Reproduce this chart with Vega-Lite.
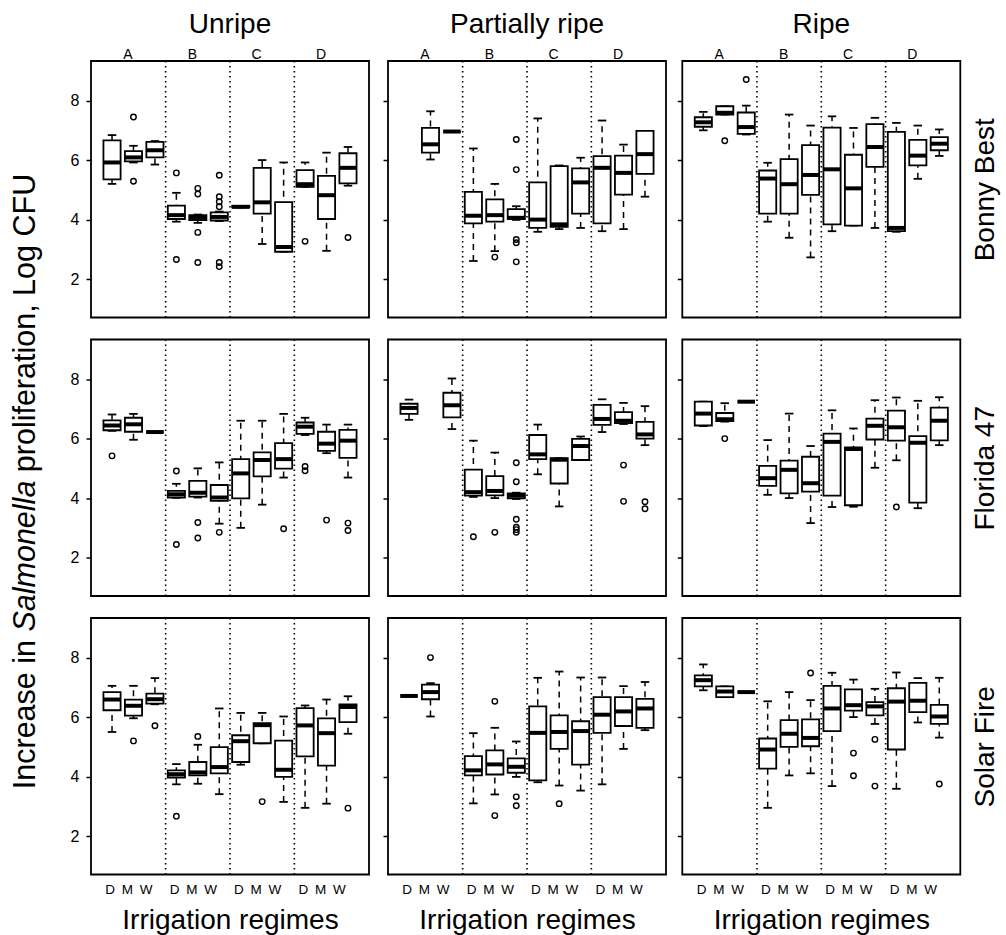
{
"$schema": "https://vega.github.io/schema/vega-lite/v6.json",
"padding": {"left": 0, "top": 10, "right": 0, "bottom": 0},
"background": "white",
"config": {
  "font": "Liberation Sans",
  "view": {"stroke": "black", "strokeWidth": 1.8},
  "axis": {"grid": false, "domain": false, "labelFont": "Liberation Sans", "titleFont": "Liberation Sans", "labelColor": "black", "titleColor": "black", "tickColor": "black", "titleFontWeight": "normal"},
  "title": {"font": "Liberation Sans", "fontSize": 28, "fontWeight": "normal", "color": "black", "offset": 8, "frame": "group", "anchor": "middle"},
  "text": {"font": "Liberation Sans", "color": "black"}
},
"datasets": {
"boxes": [
{"cult":"Bonny Best","ripe":"Unripe","grp":"A","reg":"D","lw":5.21,"q1":5.36,"med":5.93,"q3":6.67,"uw":6.85},
{"cult":"Bonny Best","ripe":"Unripe","grp":"A","reg":"M","lw":5.93,"q1":5.97,"med":6.10,"q3":6.31,"uw":6.49},
{"cult":"Bonny Best","ripe":"Unripe","grp":"A","reg":"W","lw":5.86,"q1":6.10,"med":6.34,"q3":6.62,"uw":6.65},
{"cult":"Bonny Best","ripe":"Unripe","grp":"B","reg":"D","lw":3.94,"q1":4.03,"med":4.16,"q3":4.48,"uw":4.91},
{"cult":"Bonny Best","ripe":"Unripe","grp":"B","reg":"M","lw":3.90,"q1":3.99,"med":4.07,"q3":4.16,"uw":4.18},
{"cult":"Bonny Best","ripe":"Unripe","grp":"B","reg":"W","lw":3.96,"q1":3.98,"med":4.10,"q3":4.25,"uw":4.28},
{"cult":"Bonny Best","ripe":"Unripe","grp":"C","reg":"D","lw":4.42,"q1":4.42,"med":4.44,"q3":4.47,"uw":4.47},
{"cult":"Bonny Best","ripe":"Unripe","grp":"C","reg":"M","lw":3.19,"q1":4.21,"med":4.59,"q3":5.75,"uw":6.01},
{"cult":"Bonny Best","ripe":"Unripe","grp":"C","reg":"W","lw":2.93,"q1":2.93,"med":3.09,"q3":4.60,"uw":5.93},
{"cult":"Bonny Best","ripe":"Unripe","grp":"D","reg":"D","lw":5.11,"q1":5.11,"med":5.20,"q3":5.67,"uw":5.93},
{"cult":"Bonny Best","ripe":"Unripe","grp":"D","reg":"M","lw":2.96,"q1":4.03,"med":4.83,"q3":5.48,"uw":6.26},
{"cult":"Bonny Best","ripe":"Unripe","grp":"D","reg":"W","lw":5.15,"q1":5.23,"med":5.75,"q3":6.24,"uw":6.45},
{"cult":"Bonny Best","ripe":"Partially ripe","grp":"A","reg":"M","lw":6.03,"q1":6.26,"med":6.54,"q3":7.09,"uw":7.65},
{"cult":"Bonny Best","ripe":"Partially ripe","grp":"A","reg":"W","lw":6.97,"q1":6.97,"med":6.97,"q3":6.97,"uw":6.97},
{"cult":"Bonny Best","ripe":"Partially ripe","grp":"B","reg":"D","lw":2.62,"q1":3.88,"med":4.14,"q3":4.94,"uw":6.40},
{"cult":"Bonny Best","ripe":"Partially ripe","grp":"B","reg":"M","lw":2.95,"q1":3.94,"med":4.16,"q3":4.69,"uw":5.21},
{"cult":"Bonny Best","ripe":"Partially ripe","grp":"B","reg":"W","lw":4.00,"q1":4.03,"med":4.07,"q3":4.36,"uw":4.46},
{"cult":"Bonny Best","ripe":"Partially ripe","grp":"C","reg":"D","lw":3.60,"q1":3.73,"med":4.01,"q3":5.26,"uw":7.41},
{"cult":"Bonny Best","ripe":"Partially ripe","grp":"C","reg":"M","lw":3.69,"q1":3.77,"med":3.85,"q3":5.81,"uw":5.83},
{"cult":"Bonny Best","ripe":"Partially ripe","grp":"C","reg":"W","lw":3.73,"q1":4.21,"med":5.26,"q3":5.73,"uw":6.09},
{"cult":"Bonny Best","ripe":"Partially ripe","grp":"D","reg":"D","lw":3.62,"q1":3.88,"med":5.75,"q3":6.14,"uw":7.34},
{"cult":"Bonny Best","ripe":"Partially ripe","grp":"D","reg":"M","lw":3.69,"q1":4.85,"med":5.58,"q3":6.16,"uw":6.53},
{"cult":"Bonny Best","ripe":"Partially ripe","grp":"D","reg":"W","lw":4.78,"q1":5.55,"med":6.21,"q3":6.99,"uw":6.99},
{"cult":"Bonny Best","ripe":"Ripe","grp":"A","reg":"D","lw":7.01,"q1":7.13,"med":7.28,"q3":7.45,"uw":7.63},
{"cult":"Bonny Best","ripe":"Ripe","grp":"A","reg":"M","lw":7.54,"q1":7.54,"med":7.60,"q3":7.82,"uw":7.82},
{"cult":"Bonny Best","ripe":"Ripe","grp":"A","reg":"W","lw":6.87,"q1":6.89,"med":7.12,"q3":7.61,"uw":7.84},
{"cult":"Bonny Best","ripe":"Ripe","grp":"B","reg":"D","lw":3.94,"q1":4.21,"med":5.39,"q3":5.66,"uw":5.92},
{"cult":"Bonny Best","ripe":"Ripe","grp":"B","reg":"M","lw":3.40,"q1":4.21,"med":5.20,"q3":6.04,"uw":7.54},
{"cult":"Bonny Best","ripe":"Ripe","grp":"B","reg":"W","lw":2.74,"q1":4.84,"med":5.51,"q3":6.51,"uw":7.17},
{"cult":"Bonny Best","ripe":"Ripe","grp":"C","reg":"D","lw":3.62,"q1":3.85,"med":5.70,"q3":7.10,"uw":7.48},
{"cult":"Bonny Best","ripe":"Ripe","grp":"C","reg":"M","lw":3.81,"q1":3.81,"med":5.06,"q3":6.19,"uw":7.09},
{"cult":"Bonny Best","ripe":"Ripe","grp":"C","reg":"W","lw":3.73,"q1":5.78,"med":6.45,"q3":7.22,"uw":7.43},
{"cult":"Bonny Best","ripe":"Ripe","grp":"D","reg":"D","lw":3.60,"q1":3.62,"med":3.73,"q3":6.96,"uw":7.26},
{"cult":"Bonny Best","ripe":"Ripe","grp":"D","reg":"M","lw":5.38,"q1":5.83,"med":6.16,"q3":6.69,"uw":7.17},
{"cult":"Bonny Best","ripe":"Ripe","grp":"D","reg":"W","lw":6.15,"q1":6.34,"med":6.56,"q3":6.78,"uw":7.04},
{"cult":"Florida 47","ripe":"Unripe","grp":"A","reg":"D","lw":6.27,"q1":6.29,"med":6.45,"q3":6.62,"uw":6.82},
{"cult":"Florida 47","ripe":"Unripe","grp":"A","reg":"M","lw":5.97,"q1":6.24,"med":6.49,"q3":6.71,"uw":6.84},
{"cult":"Florida 47","ripe":"Unripe","grp":"A","reg":"W","lw":6.23,"q1":6.23,"med":6.23,"q3":6.23,"uw":6.23},
{"cult":"Florida 47","ripe":"Unripe","grp":"B","reg":"D","lw":4.02,"q1":4.03,"med":4.14,"q3":4.25,"uw":4.49},
{"cult":"Florida 47","ripe":"Unripe","grp":"B","reg":"M","lw":4.03,"q1":4.06,"med":4.19,"q3":4.59,"uw":5.01},
{"cult":"Florida 47","ripe":"Unripe","grp":"B","reg":"W","lw":3.15,"q1":3.92,"med":4.03,"q3":4.45,"uw":5.21},
{"cult":"Florida 47","ripe":"Unripe","grp":"C","reg":"D","lw":3.01,"q1":4.00,"med":4.84,"q3":5.32,"uw":6.61},
{"cult":"Florida 47","ripe":"Unripe","grp":"C","reg":"M","lw":3.79,"q1":4.74,"med":5.29,"q3":5.55,"uw":6.61},
{"cult":"Florida 47","ripe":"Unripe","grp":"C","reg":"W","lw":4.70,"q1":5.00,"med":5.32,"q3":5.86,"uw":6.84},
{"cult":"Florida 47","ripe":"Unripe","grp":"D","reg":"D","lw":6.13,"q1":6.17,"med":6.41,"q3":6.55,"uw":6.71},
{"cult":"Florida 47","ripe":"Unripe","grp":"D","reg":"M","lw":5.52,"q1":5.60,"med":5.84,"q3":6.24,"uw":6.48},
{"cult":"Florida 47","ripe":"Unripe","grp":"D","reg":"W","lw":4.70,"q1":5.36,"med":5.94,"q3":6.30,"uw":6.48},
{"cult":"Florida 47","ripe":"Partially ripe","grp":"A","reg":"D","lw":6.64,"q1":6.84,"med":7.04,"q3":7.18,"uw":7.32},
{"cult":"Florida 47","ripe":"Partially ripe","grp":"A","reg":"W","lw":6.33,"q1":6.72,"med":7.13,"q3":7.55,"uw":8.03},
{"cult":"Florida 47","ripe":"Partially ripe","grp":"B","reg":"D","lw":4.05,"q1":4.09,"med":4.21,"q3":4.97,"uw":5.94},
{"cult":"Florida 47","ripe":"Partially ripe","grp":"B","reg":"M","lw":4.01,"q1":4.10,"med":4.25,"q3":4.75,"uw":5.54},
{"cult":"Florida 47","ripe":"Partially ripe","grp":"B","reg":"W","lw":3.98,"q1":4.00,"med":4.09,"q3":4.17,"uw":4.19},
{"cult":"Florida 47","ripe":"Partially ripe","grp":"C","reg":"D","lw":4.81,"q1":5.32,"med":5.48,"q3":6.13,"uw":6.48},
{"cult":"Florida 47","ripe":"Partially ripe","grp":"C","reg":"M","lw":3.73,"q1":4.50,"med":5.30,"q3":5.35,"uw":5.35},
{"cult":"Florida 47","ripe":"Partially ripe","grp":"C","reg":"W","lw":5.29,"q1":5.29,"med":5.76,"q3":6.00,"uw":6.08},
{"cult":"Florida 47","ripe":"Partially ripe","grp":"D","reg":"D","lw":6.23,"q1":6.47,"med":6.67,"q3":7.14,"uw":7.33},
{"cult":"Florida 47","ripe":"Partially ripe","grp":"D","reg":"M","lw":6.50,"q1":6.53,"med":6.61,"q3":6.90,"uw":7.21},
{"cult":"Florida 47","ripe":"Partially ripe","grp":"D","reg":"W","lw":5.79,"q1":6.01,"med":6.15,"q3":6.57,"uw":7.10},
{"cult":"Florida 47","ripe":"Ripe","grp":"A","reg":"D","lw":6.43,"q1":6.45,"med":6.85,"q3":7.25,"uw":7.25},
{"cult":"Florida 47","ripe":"Ripe","grp":"A","reg":"M","lw":6.58,"q1":6.60,"med":6.66,"q3":6.87,"uw":7.20},
{"cult":"Florida 47","ripe":"Ripe","grp":"A","reg":"W","lw":7.25,"q1":7.25,"med":7.25,"q3":7.25,"uw":7.25},
{"cult":"Florida 47","ripe":"Ripe","grp":"B","reg":"D","lw":4.12,"q1":4.42,"med":4.68,"q3":5.09,"uw":5.96},
{"cult":"Florida 47","ripe":"Ripe","grp":"B","reg":"M","lw":4.01,"q1":4.17,"med":4.96,"q3":5.27,"uw":6.85},
{"cult":"Florida 47","ripe":"Ripe","grp":"B","reg":"W","lw":3.17,"q1":4.23,"med":4.51,"q3":5.40,"uw":5.76},
{"cult":"Florida 47","ripe":"Ripe","grp":"C","reg":"D","lw":3.71,"q1":4.09,"med":5.90,"q3":6.18,"uw":6.96},
{"cult":"Florida 47","ripe":"Ripe","grp":"C","reg":"M","lw":3.72,"q1":3.77,"med":5.66,"q3":5.71,"uw":6.35},
{"cult":"Florida 47","ripe":"Ripe","grp":"C","reg":"W","lw":5.03,"q1":5.98,"med":6.44,"q3":6.68,"uw":7.30},
{"cult":"Florida 47","ripe":"Ripe","grp":"D","reg":"D","lw":5.28,"q1":5.94,"med":6.39,"q3":6.95,"uw":7.39},
{"cult":"Florida 47","ripe":"Ripe","grp":"D","reg":"M","lw":3.67,"q1":3.86,"med":5.87,"q3":6.09,"uw":7.28},
{"cult":"Florida 47","ripe":"Ripe","grp":"D","reg":"W","lw":5.79,"q1":5.95,"med":6.61,"q3":7.05,"uw":7.40},
{"cult":"Solar Fire","ripe":"Unripe","grp":"A","reg":"D","lw":5.51,"q1":6.24,"med":6.60,"q3":6.85,"uw":7.06},
{"cult":"Solar Fire","ripe":"Unripe","grp":"A","reg":"M","lw":5.97,"q1":6.06,"med":6.39,"q3":6.60,"uw":7.06},
{"cult":"Solar Fire","ripe":"Unripe","grp":"A","reg":"W","lw":6.44,"q1":6.46,"med":6.61,"q3":6.80,"uw":7.32},
{"cult":"Solar Fire","ripe":"Unripe","grp":"B","reg":"D","lw":3.75,"q1":3.98,"med":4.09,"q3":4.22,"uw":4.43},
{"cult":"Solar Fire","ripe":"Unripe","grp":"B","reg":"M","lw":3.77,"q1":4.05,"med":4.15,"q3":4.50,"uw":5.08},
{"cult":"Solar Fire","ripe":"Unripe","grp":"B","reg":"W","lw":3.42,"q1":4.12,"med":4.33,"q3":5.00,"uw":6.30},
{"cult":"Solar Fire","ripe":"Unripe","grp":"C","reg":"D","lw":4.41,"q1":4.50,"med":5.20,"q3":5.40,"uw":6.15},
{"cult":"Solar Fire","ripe":"Unripe","grp":"C","reg":"M","lw":5.13,"q1":5.13,"med":5.74,"q3":5.81,"uw":6.15},
{"cult":"Solar Fire","ripe":"Unripe","grp":"C","reg":"W","lw":3.16,"q1":4.00,"med":4.24,"q3":5.22,"uw":6.03},
{"cult":"Solar Fire","ripe":"Unripe","grp":"D","reg":"D","lw":2.96,"q1":4.69,"med":5.73,"q3":6.31,"uw":6.40},
{"cult":"Solar Fire","ripe":"Unripe","grp":"D","reg":"M","lw":3.10,"q1":4.38,"med":5.47,"q3":5.97,"uw":6.60},
{"cult":"Solar Fire","ripe":"Unripe","grp":"D","reg":"W","lw":5.45,"q1":5.84,"med":6.35,"q3":6.44,"uw":6.71},
{"cult":"Solar Fire","ripe":"Partially ripe","grp":"A","reg":"D","lw":6.72,"q1":6.72,"med":6.72,"q3":6.72,"uw":6.72},
{"cult":"Solar Fire","ripe":"Partially ripe","grp":"A","reg":"M","lw":6.03,"q1":6.61,"med":6.85,"q3":7.10,"uw":7.15},
{"cult":"Solar Fire","ripe":"Partially ripe","grp":"B","reg":"D","lw":3.11,"q1":4.05,"med":4.22,"q3":4.70,"uw":5.47},
{"cult":"Solar Fire","ripe":"Partially ripe","grp":"B","reg":"M","lw":3.41,"q1":4.08,"med":4.42,"q3":4.89,"uw":5.65},
{"cult":"Solar Fire","ripe":"Partially ripe","grp":"B","reg":"W","lw":4.00,"q1":4.14,"med":4.34,"q3":4.62,"uw":5.19},
{"cult":"Solar Fire","ripe":"Partially ripe","grp":"C","reg":"D","lw":3.82,"q1":3.88,"med":5.48,"q3":6.37,"uw":7.33},
{"cult":"Solar Fire","ripe":"Partially ripe","grp":"C","reg":"M","lw":3.71,"q1":4.94,"med":5.51,"q3":6.07,"uw":7.54},
{"cult":"Solar Fire","ripe":"Partially ripe","grp":"C","reg":"W","lw":3.54,"q1":4.41,"med":5.54,"q3":5.87,"uw":7.34},
{"cult":"Solar Fire","ripe":"Partially ripe","grp":"D","reg":"D","lw":3.75,"q1":5.48,"med":6.09,"q3":6.68,"uw":7.34},
{"cult":"Solar Fire","ripe":"Partially ripe","grp":"D","reg":"M","lw":4.94,"q1":5.71,"med":6.20,"q3":6.68,"uw":7.05},
{"cult":"Solar Fire","ripe":"Partially ripe","grp":"D","reg":"W","lw":5.57,"q1":5.65,"med":6.30,"q3":6.62,"uw":7.19},
{"cult":"Solar Fire","ripe":"Ripe","grp":"A","reg":"D","lw":6.91,"q1":7.04,"med":7.25,"q3":7.41,"uw":7.78},
{"cult":"Solar Fire","ripe":"Ripe","grp":"A","reg":"M","lw":6.68,"q1":6.68,"med":6.87,"q3":7.04,"uw":7.04},
{"cult":"Solar Fire","ripe":"Ripe","grp":"A","reg":"W","lw":6.85,"q1":6.85,"med":6.85,"q3":6.85,"uw":6.85},
{"cult":"Solar Fire","ripe":"Ripe","grp":"B","reg":"D","lw":2.96,"q1":4.28,"med":4.92,"q3":5.29,"uw":6.54},
{"cult":"Solar Fire","ripe":"Ripe","grp":"B","reg":"M","lw":4.05,"q1":5.01,"med":5.45,"q3":5.91,"uw":6.85},
{"cult":"Solar Fire","ripe":"Ripe","grp":"B","reg":"W","lw":4.12,"q1":5.03,"med":5.31,"q3":5.93,"uw":6.58},
{"cult":"Solar Fire","ripe":"Ripe","grp":"C","reg":"D","lw":3.69,"q1":5.54,"med":6.30,"q3":7.06,"uw":7.50},
{"cult":"Solar Fire","ripe":"Ripe","grp":"C","reg":"M","lw":6.01,"q1":6.23,"med":6.41,"q3":6.94,"uw":7.27},
{"cult":"Solar Fire","ripe":"Ripe","grp":"C","reg":"W","lw":5.78,"q1":6.07,"med":6.37,"q3":6.51,"uw":6.96},
{"cult":"Solar Fire","ripe":"Ripe","grp":"D","reg":"D","lw":3.60,"q1":4.92,"med":6.53,"q3":6.98,"uw":7.51},
{"cult":"Solar Fire","ripe":"Ripe","grp":"D","reg":"M","lw":5.83,"q1":6.18,"med":6.56,"q3":7.16,"uw":7.32},
{"cult":"Solar Fire","ripe":"Ripe","grp":"D","reg":"W","lw":5.32,"q1":5.78,"med":6.03,"q3":6.42,"uw":7.33}
],
"outliers": [
{"cult":"Bonny Best","ripe":"Unripe","grp":"A","reg":"M","v":7.46},
{"cult":"Bonny Best","ripe":"Unripe","grp":"A","reg":"M","v":5.30},
{"cult":"Bonny Best","ripe":"Unripe","grp":"B","reg":"D","v":5.58},
{"cult":"Bonny Best","ripe":"Unripe","grp":"B","reg":"D","v":2.67},
{"cult":"Bonny Best","ripe":"Unripe","grp":"B","reg":"M","v":5.06},
{"cult":"Bonny Best","ripe":"Unripe","grp":"B","reg":"M","v":4.87},
{"cult":"Bonny Best","ripe":"Unripe","grp":"B","reg":"M","v":3.58},
{"cult":"Bonny Best","ripe":"Unripe","grp":"B","reg":"M","v":2.57},
{"cult":"Bonny Best","ripe":"Unripe","grp":"B","reg":"W","v":5.50},
{"cult":"Bonny Best","ripe":"Unripe","grp":"B","reg":"W","v":4.78},
{"cult":"Bonny Best","ripe":"Unripe","grp":"B","reg":"W","v":4.61},
{"cult":"Bonny Best","ripe":"Unripe","grp":"B","reg":"W","v":4.44},
{"cult":"Bonny Best","ripe":"Unripe","grp":"B","reg":"W","v":2.57},
{"cult":"Bonny Best","ripe":"Unripe","grp":"B","reg":"W","v":2.43},
{"cult":"Bonny Best","ripe":"Unripe","grp":"D","reg":"D","v":3.28},
{"cult":"Bonny Best","ripe":"Unripe","grp":"D","reg":"W","v":3.41},
{"cult":"Bonny Best","ripe":"Partially ripe","grp":"B","reg":"M","v":2.75},
{"cult":"Bonny Best","ripe":"Partially ripe","grp":"B","reg":"W","v":6.70},
{"cult":"Bonny Best","ripe":"Partially ripe","grp":"B","reg":"W","v":5.69},
{"cult":"Bonny Best","ripe":"Partially ripe","grp":"B","reg":"W","v":3.34},
{"cult":"Bonny Best","ripe":"Partially ripe","grp":"B","reg":"W","v":3.23},
{"cult":"Bonny Best","ripe":"Partially ripe","grp":"B","reg":"W","v":2.59},
{"cult":"Bonny Best","ripe":"Ripe","grp":"A","reg":"M","v":6.66},
{"cult":"Bonny Best","ripe":"Ripe","grp":"A","reg":"W","v":8.72},
{"cult":"Florida 47","ripe":"Unripe","grp":"A","reg":"D","v":5.43},
{"cult":"Florida 47","ripe":"Unripe","grp":"B","reg":"D","v":4.92},
{"cult":"Florida 47","ripe":"Unripe","grp":"B","reg":"D","v":2.45},
{"cult":"Florida 47","ripe":"Unripe","grp":"B","reg":"M","v":3.19},
{"cult":"Florida 47","ripe":"Unripe","grp":"B","reg":"M","v":2.67},
{"cult":"Florida 47","ripe":"Unripe","grp":"B","reg":"W","v":2.86},
{"cult":"Florida 47","ripe":"Unripe","grp":"C","reg":"W","v":2.98},
{"cult":"Florida 47","ripe":"Unripe","grp":"D","reg":"D","v":5.07},
{"cult":"Florida 47","ripe":"Unripe","grp":"D","reg":"D","v":4.93},
{"cult":"Florida 47","ripe":"Unripe","grp":"D","reg":"M","v":3.27},
{"cult":"Florida 47","ripe":"Unripe","grp":"D","reg":"W","v":3.17},
{"cult":"Florida 47","ripe":"Unripe","grp":"D","reg":"W","v":2.92},
{"cult":"Florida 47","ripe":"Partially ripe","grp":"B","reg":"D","v":2.71},
{"cult":"Florida 47","ripe":"Partially ripe","grp":"B","reg":"M","v":2.86},
{"cult":"Florida 47","ripe":"Partially ripe","grp":"B","reg":"W","v":5.20},
{"cult":"Florida 47","ripe":"Partially ripe","grp":"B","reg":"W","v":4.56},
{"cult":"Florida 47","ripe":"Partially ripe","grp":"B","reg":"W","v":3.30},
{"cult":"Florida 47","ripe":"Partially ripe","grp":"B","reg":"W","v":3.03},
{"cult":"Florida 47","ripe":"Partially ripe","grp":"B","reg":"W","v":2.95},
{"cult":"Florida 47","ripe":"Partially ripe","grp":"B","reg":"W","v":2.86},
{"cult":"Florida 47","ripe":"Partially ripe","grp":"D","reg":"M","v":5.12},
{"cult":"Florida 47","ripe":"Partially ripe","grp":"D","reg":"M","v":3.90},
{"cult":"Florida 47","ripe":"Partially ripe","grp":"D","reg":"W","v":3.89},
{"cult":"Florida 47","ripe":"Partially ripe","grp":"D","reg":"W","v":3.65},
{"cult":"Florida 47","ripe":"Ripe","grp":"A","reg":"M","v":6.01},
{"cult":"Florida 47","ripe":"Ripe","grp":"D","reg":"D","v":3.71},
{"cult":"Solar Fire","ripe":"Unripe","grp":"A","reg":"M","v":5.21},
{"cult":"Solar Fire","ripe":"Unripe","grp":"A","reg":"W","v":5.72},
{"cult":"Solar Fire","ripe":"Unripe","grp":"B","reg":"D","v":2.68},
{"cult":"Solar Fire","ripe":"Unripe","grp":"B","reg":"M","v":5.36},
{"cult":"Solar Fire","ripe":"Unripe","grp":"C","reg":"M","v":3.17},
{"cult":"Solar Fire","ripe":"Unripe","grp":"D","reg":"W","v":2.95},
{"cult":"Solar Fire","ripe":"Partially ripe","grp":"A","reg":"M","v":8.01},
{"cult":"Solar Fire","ripe":"Partially ripe","grp":"B","reg":"M","v":6.54},
{"cult":"Solar Fire","ripe":"Partially ripe","grp":"B","reg":"M","v":2.70},
{"cult":"Solar Fire","ripe":"Partially ripe","grp":"B","reg":"W","v":3.33},
{"cult":"Solar Fire","ripe":"Partially ripe","grp":"B","reg":"W","v":3.03},
{"cult":"Solar Fire","ripe":"Partially ripe","grp":"C","reg":"M","v":3.10},
{"cult":"Solar Fire","ripe":"Ripe","grp":"B","reg":"W","v":7.49},
{"cult":"Solar Fire","ripe":"Ripe","grp":"C","reg":"M","v":4.80},
{"cult":"Solar Fire","ripe":"Ripe","grp":"C","reg":"M","v":4.04},
{"cult":"Solar Fire","ripe":"Ripe","grp":"C","reg":"W","v":5.26},
{"cult":"Solar Fire","ripe":"Ripe","grp":"C","reg":"W","v":3.69},
{"cult":"Solar Fire","ripe":"Ripe","grp":"D","reg":"W","v":3.76}
],
"seps": [
{"cult":"Bonny Best","ripe":"Unripe","grp":"B"},{"cult":"Bonny Best","ripe":"Unripe","grp":"C"},{"cult":"Bonny Best","ripe":"Unripe","grp":"D"},
{"cult":"Bonny Best","ripe":"Partially ripe","grp":"B"},{"cult":"Bonny Best","ripe":"Partially ripe","grp":"C"},{"cult":"Bonny Best","ripe":"Partially ripe","grp":"D"},
{"cult":"Bonny Best","ripe":"Ripe","grp":"B"},{"cult":"Bonny Best","ripe":"Ripe","grp":"C"},{"cult":"Bonny Best","ripe":"Ripe","grp":"D"},
{"cult":"Florida 47","ripe":"Unripe","grp":"B"},{"cult":"Florida 47","ripe":"Unripe","grp":"C"},{"cult":"Florida 47","ripe":"Unripe","grp":"D"},
{"cult":"Florida 47","ripe":"Partially ripe","grp":"B"},{"cult":"Florida 47","ripe":"Partially ripe","grp":"C"},{"cult":"Florida 47","ripe":"Partially ripe","grp":"D"},
{"cult":"Florida 47","ripe":"Ripe","grp":"B"},{"cult":"Florida 47","ripe":"Ripe","grp":"C"},{"cult":"Florida 47","ripe":"Ripe","grp":"D"},
{"cult":"Solar Fire","ripe":"Unripe","grp":"B"},{"cult":"Solar Fire","ripe":"Unripe","grp":"C"},{"cult":"Solar Fire","ripe":"Unripe","grp":"D"},
{"cult":"Solar Fire","ripe":"Partially ripe","grp":"B"},{"cult":"Solar Fire","ripe":"Partially ripe","grp":"C"},{"cult":"Solar Fire","ripe":"Partially ripe","grp":"D"},
{"cult":"Solar Fire","ripe":"Ripe","grp":"B"},{"cult":"Solar Fire","ripe":"Ripe","grp":"C"},{"cult":"Solar Fire","ripe":"Ripe","grp":"D"}
]
},
"spacing": 17,
"hconcat": [
{
 "width": 52, "height": 811, "view": {"stroke": null},
 "layer": [
  {"data": {"values": [{"t": "Increase in"}]}, "mark": {"type": "text", "angle": 270, "fontSize": 30.5, "align": "right", "baseline": "middle", "dx": -173.5, "color": "black"}, "encoding": {"text": {"field": "t"}}},
  {"data": {"values": [{"t": "Salmonella"}]}, "mark": {"type": "text", "angle": 270, "fontSize": 30.5, "fontStyle": "italic", "align": "center", "baseline": "middle", "dx": -89.6, "color": "black"}, "encoding": {"text": {"field": "t"}}},
  {"data": {"values": [{"t": "proliferation, Log CFU"}]}, "mark": {"type": "text", "angle": 270, "fontSize": 30.5, "align": "left", "baseline": "middle", "dx": -5.7, "color": "black"}, "encoding": {"text": {"field": "t"}}}
 ]
},
{
 "spacing": 8.3,
 "hconcat": [
 {
  "spacing": 11,
  "hconcat": [
  {
   "spacing": 17.5,
   "vconcat": [
   {
    "width": 278, "height": 256.5, "title": {"text": "Unripe"},
    "data": {"name": "boxes"}, "transform": [{"filter": "datum.cult=='Bonny Best'&&datum.ripe=='Unripe'"}],
    "resolve": {"axis": {"x": "independent", "y": "independent"}},
    "encoding": {
     "x": {"field": "grp", "type": "nominal", "scale": {"domain": ["A","B","C","D"], "paddingInner": 0, "paddingOuter": 0.16}, "axis": null},
     "xOffset": {"field": "reg", "type": "nominal", "scale": {"domain": ["D","M","W"], "paddingInner": 0.2, "paddingOuter": 0.1}}
    },
    "layer": [
     {"data": {"name": "seps"}, "transform": [{"filter": "datum.cult=='Bonny Best'&&datum.ripe=='Unripe'"}], "mark": {"type": "rule", "strokeDash": [1.5, 3.5], "strokeWidth": 1.6, "color": "black"}, "encoding": {"x": {"field": "grp", "type": "nominal", "bandPosition": 0, "scale": {"domain": ["A","B","C","D"], "paddingInner": 0, "paddingOuter": 0.16}, "axis": null}, "xOffset": {"value": 0}}},
     {"mark": {"type": "rule", "strokeDash": [6, 5], "strokeWidth": 1.5, "color": "black"}, "encoding": {"y": {"field": "lw", "type": "quantitative", "scale": {"domain": [0.72, 9.34], "nice": false, "zero": false}, "axis": {"orient": "left", "values": [2,4,6,8], "tickSize": 5, "tickWidth": 1.5, "labelFontSize": 16, "labelPadding": 7, "title": null}}, "y2": {"field": "uw"}}},
     {"mark": {"type": "tick", "orient": "horizontal", "size": 8.5, "thickness": 1.8, "color": "black", "opacity": 1}, "encoding": {"y": {"field": "lw", "type": "quantitative", "scale": {"domain": [0.72, 9.34], "nice": false, "zero": false}, "axis": null}}},
     {"mark": {"type": "tick", "orient": "horizontal", "size": 8.5, "thickness": 1.8, "color": "black", "opacity": 1}, "encoding": {"y": {"field": "uw", "type": "quantitative", "scale": {"domain": [0.72, 9.34], "nice": false, "zero": false}, "axis": null}}},
     {"mark": {"type": "bar", "fill": "white", "stroke": "black", "strokeWidth": 1.8}, "encoding": {"y": {"field": "q1", "type": "quantitative", "scale": {"domain": [0.72, 9.34], "nice": false, "zero": false}, "axis": null}, "y2": {"field": "q3"}}},
     {"mark": {"type": "tick", "orient": "horizontal", "size": 17.5, "thickness": 4, "color": "black", "opacity": 1}, "encoding": {"x": {"field": "grp", "type": "nominal", "scale": {"domain": ["A","B","C","D"], "paddingInner": 0, "paddingOuter": 0.16}, "axis": {"orient": "top", "ticks": false, "labelAngle": 0, "labelFontSize": 14, "labelPadding": 0, "labelOffset": -5.5, "title": null}}, "y": {"field": "med", "type": "quantitative", "scale": {"domain": [0.72, 9.34], "nice": false, "zero": false}, "axis": null}}},
     {"data": {"name": "outliers"}, "transform": [{"filter": "datum.cult=='Bonny Best'&&datum.ripe=='Unripe'"}], "mark": {"type": "point", "shape": "circle", "filled": false, "size": 30, "strokeWidth": 1.4, "color": "black", "opacity": 1}, "encoding": {"y": {"field": "v", "type": "quantitative", "scale": {"domain": [0.72, 9.34], "nice": false, "zero": false}, "axis": null}}}
    ]
   },
   {
    "width": 278, "height": 256.5,
    "data": {"name": "boxes"}, "transform": [{"filter": "datum.cult=='Florida 47'&&datum.ripe=='Unripe'"}],
    "resolve": {"axis": {"x": "independent", "y": "independent"}},
    "encoding": {
     "x": {"field": "grp", "type": "nominal", "scale": {"domain": ["A","B","C","D"], "paddingInner": 0, "paddingOuter": 0.16}, "axis": null},
     "xOffset": {"field": "reg", "type": "nominal", "scale": {"domain": ["D","M","W"], "paddingInner": 0.2, "paddingOuter": 0.1}}
    },
    "layer": [
     {"data": {"name": "seps"}, "transform": [{"filter": "datum.cult=='Florida 47'&&datum.ripe=='Unripe'"}], "mark": {"type": "rule", "strokeDash": [1.5, 3.5], "strokeWidth": 1.6, "color": "black"}, "encoding": {"x": {"field": "grp", "type": "nominal", "bandPosition": 0, "scale": {"domain": ["A","B","C","D"], "paddingInner": 0, "paddingOuter": 0.16}, "axis": null}, "xOffset": {"value": 0}}},
     {"mark": {"type": "rule", "strokeDash": [6, 5], "strokeWidth": 1.5, "color": "black"}, "encoding": {"y": {"field": "lw", "type": "quantitative", "scale": {"domain": [0.72, 9.34], "nice": false, "zero": false}, "axis": {"orient": "left", "values": [2,4,6,8], "tickSize": 5, "tickWidth": 1.5, "labelFontSize": 16, "labelPadding": 7, "title": null}}, "y2": {"field": "uw"}}},
     {"mark": {"type": "tick", "orient": "horizontal", "size": 8.5, "thickness": 1.8, "color": "black", "opacity": 1}, "encoding": {"y": {"field": "lw", "type": "quantitative", "scale": {"domain": [0.72, 9.34], "nice": false, "zero": false}, "axis": null}}},
     {"mark": {"type": "tick", "orient": "horizontal", "size": 8.5, "thickness": 1.8, "color": "black", "opacity": 1}, "encoding": {"y": {"field": "uw", "type": "quantitative", "scale": {"domain": [0.72, 9.34], "nice": false, "zero": false}, "axis": null}}},
     {"mark": {"type": "bar", "fill": "white", "stroke": "black", "strokeWidth": 1.8}, "encoding": {"y": {"field": "q1", "type": "quantitative", "scale": {"domain": [0.72, 9.34], "nice": false, "zero": false}, "axis": null}, "y2": {"field": "q3"}}},
     {"mark": {"type": "tick", "orient": "horizontal", "size": 17.5, "thickness": 4, "color": "black", "opacity": 1}, "encoding": {"y": {"field": "med", "type": "quantitative", "scale": {"domain": [0.72, 9.34], "nice": false, "zero": false}, "axis": null}}},
     {"data": {"name": "outliers"}, "transform": [{"filter": "datum.cult=='Florida 47'&&datum.ripe=='Unripe'"}], "mark": {"type": "point", "shape": "circle", "filled": false, "size": 30, "strokeWidth": 1.4, "color": "black", "opacity": 1}, "encoding": {"y": {"field": "v", "type": "quantitative", "scale": {"domain": [0.72, 9.34], "nice": false, "zero": false}, "axis": null}}}
    ]
   },
   {
    "width": 278, "height": 256.5,
    "data": {"name": "boxes"}, "transform": [{"filter": "datum.cult=='Solar Fire'&&datum.ripe=='Unripe'"}],
    "resolve": {"axis": {"x": "independent", "y": "independent"}},
    "encoding": {
     "x": {"field": "grp", "type": "nominal", "scale": {"domain": ["A","B","C","D"], "paddingInner": 0, "paddingOuter": 0.16}, "axis": null},
     "xOffset": {"field": "reg", "type": "nominal", "scale": {"domain": ["D","M","W"], "paddingInner": 0.2, "paddingOuter": 0.1}}
    },
    "layer": [
     {"data": {"name": "seps"}, "transform": [{"filter": "datum.cult=='Solar Fire'&&datum.ripe=='Unripe'"}], "mark": {"type": "rule", "strokeDash": [1.5, 3.5], "strokeWidth": 1.6, "color": "black"}, "encoding": {"x": {"field": "grp", "type": "nominal", "bandPosition": 0, "scale": {"domain": ["A","B","C","D"], "paddingInner": 0, "paddingOuter": 0.16}, "axis": null}, "xOffset": {"value": 0}}},
     {"mark": {"type": "rule", "strokeDash": [6, 5], "strokeWidth": 1.5, "color": "black"}, "encoding": {"y": {"field": "lw", "type": "quantitative", "scale": {"domain": [0.72, 9.34], "nice": false, "zero": false}, "axis": {"orient": "left", "values": [2,4,6,8], "tickSize": 5, "tickWidth": 1.5, "labelFontSize": 16, "labelPadding": 7, "title": null}}, "y2": {"field": "uw"}}},
     {"mark": {"type": "tick", "orient": "horizontal", "size": 8.5, "thickness": 1.8, "color": "black", "opacity": 1}, "encoding": {"y": {"field": "lw", "type": "quantitative", "scale": {"domain": [0.72, 9.34], "nice": false, "zero": false}, "axis": null}}},
     {"mark": {"type": "tick", "orient": "horizontal", "size": 8.5, "thickness": 1.8, "color": "black", "opacity": 1}, "encoding": {"y": {"field": "uw", "type": "quantitative", "scale": {"domain": [0.72, 9.34], "nice": false, "zero": false}, "axis": null}}},
     {"mark": {"type": "bar", "fill": "white", "stroke": "black", "strokeWidth": 1.8}, "encoding": {"y": {"field": "q1", "type": "quantitative", "scale": {"domain": [0.72, 9.34], "nice": false, "zero": false}, "axis": null}, "y2": {"field": "q3"}}},
     {"mark": {"type": "tick", "orient": "horizontal", "size": 17.5, "thickness": 4, "color": "black", "opacity": 1}, "encoding": {"x": {"field": "grp", "type": "nominal", "scale": {"domain": ["A","B","C","D"], "paddingInner": 0, "paddingOuter": 0.16}, "axis": {"orient": "bottom", "ticks": false, "labelAngle": 0, "labelFontSize": 13.5, "labelPadding": 8, "labelOffset": -4.5, "labelExpr": "'D\u2002M\u2002W'", "title": "Irrigation regimes", "titleFontSize": 28, "titlePadding": 10}}, "y": {"field": "med", "type": "quantitative", "scale": {"domain": [0.72, 9.34], "nice": false, "zero": false}, "axis": null}}},
     {"data": {"name": "outliers"}, "transform": [{"filter": "datum.cult=='Solar Fire'&&datum.ripe=='Unripe'"}], "mark": {"type": "point", "shape": "circle", "filled": false, "size": 30, "strokeWidth": 1.4, "color": "black", "opacity": 1}, "encoding": {"y": {"field": "v", "type": "quantitative", "scale": {"domain": [0.72, 9.34], "nice": false, "zero": false}, "axis": null}}}
    ]
   }
   ]
  },
  {
   "spacing": 17.5,
   "vconcat": [
   {
    "width": 278, "height": 256.5, "title": {"text": "Partially ripe"},
    "data": {"name": "boxes"}, "transform": [{"filter": "datum.cult=='Bonny Best'&&datum.ripe=='Partially ripe'"}],
    "resolve": {"axis": {"x": "independent", "y": "independent"}},
    "encoding": {
     "x": {"field": "grp", "type": "nominal", "scale": {"domain": ["A","B","C","D"], "paddingInner": 0, "paddingOuter": 0.16}, "axis": null},
     "xOffset": {"field": "reg", "type": "nominal", "scale": {"domain": ["D","M","W"], "paddingInner": 0.2, "paddingOuter": 0.1}}
    },
    "layer": [
     {"data": {"name": "seps"}, "transform": [{"filter": "datum.cult=='Bonny Best'&&datum.ripe=='Partially ripe'"}], "mark": {"type": "rule", "strokeDash": [1.5, 3.5], "strokeWidth": 1.6, "color": "black"}, "encoding": {"x": {"field": "grp", "type": "nominal", "bandPosition": 0, "scale": {"domain": ["A","B","C","D"], "paddingInner": 0, "paddingOuter": 0.16}, "axis": null}, "xOffset": {"value": 0}}},
     {"mark": {"type": "rule", "strokeDash": [6, 5], "strokeWidth": 1.5, "color": "black"}, "encoding": {"y": {"field": "lw", "type": "quantitative", "scale": {"domain": [0.72, 9.34], "nice": false, "zero": false}, "axis": {"orient": "left", "values": [2,4,6,8], "tickSize": 5, "tickWidth": 1.5, "labels": false, "title": null}}, "y2": {"field": "uw"}}},
     {"mark": {"type": "tick", "orient": "horizontal", "size": 8.5, "thickness": 1.8, "color": "black", "opacity": 1}, "encoding": {"y": {"field": "lw", "type": "quantitative", "scale": {"domain": [0.72, 9.34], "nice": false, "zero": false}, "axis": null}}},
     {"mark": {"type": "tick", "orient": "horizontal", "size": 8.5, "thickness": 1.8, "color": "black", "opacity": 1}, "encoding": {"y": {"field": "uw", "type": "quantitative", "scale": {"domain": [0.72, 9.34], "nice": false, "zero": false}, "axis": null}}},
     {"mark": {"type": "bar", "fill": "white", "stroke": "black", "strokeWidth": 1.8}, "encoding": {"y": {"field": "q1", "type": "quantitative", "scale": {"domain": [0.72, 9.34], "nice": false, "zero": false}, "axis": null}, "y2": {"field": "q3"}}},
     {"mark": {"type": "tick", "orient": "horizontal", "size": 17.5, "thickness": 4, "color": "black", "opacity": 1}, "encoding": {"x": {"field": "grp", "type": "nominal", "scale": {"domain": ["A","B","C","D"], "paddingInner": 0, "paddingOuter": 0.16}, "axis": {"orient": "top", "ticks": false, "labelAngle": 0, "labelFontSize": 14, "labelPadding": 0, "labelOffset": -5.5, "title": null}}, "y": {"field": "med", "type": "quantitative", "scale": {"domain": [0.72, 9.34], "nice": false, "zero": false}, "axis": null}}},
     {"data": {"name": "outliers"}, "transform": [{"filter": "datum.cult=='Bonny Best'&&datum.ripe=='Partially ripe'"}], "mark": {"type": "point", "shape": "circle", "filled": false, "size": 30, "strokeWidth": 1.4, "color": "black", "opacity": 1}, "encoding": {"y": {"field": "v", "type": "quantitative", "scale": {"domain": [0.72, 9.34], "nice": false, "zero": false}, "axis": null}}}
    ]
   },
   {
    "width": 278, "height": 256.5,
    "data": {"name": "boxes"}, "transform": [{"filter": "datum.cult=='Florida 47'&&datum.ripe=='Partially ripe'"}],
    "resolve": {"axis": {"x": "independent", "y": "independent"}},
    "encoding": {
     "x": {"field": "grp", "type": "nominal", "scale": {"domain": ["A","B","C","D"], "paddingInner": 0, "paddingOuter": 0.16}, "axis": null},
     "xOffset": {"field": "reg", "type": "nominal", "scale": {"domain": ["D","M","W"], "paddingInner": 0.2, "paddingOuter": 0.1}}
    },
    "layer": [
     {"data": {"name": "seps"}, "transform": [{"filter": "datum.cult=='Florida 47'&&datum.ripe=='Partially ripe'"}], "mark": {"type": "rule", "strokeDash": [1.5, 3.5], "strokeWidth": 1.6, "color": "black"}, "encoding": {"x": {"field": "grp", "type": "nominal", "bandPosition": 0, "scale": {"domain": ["A","B","C","D"], "paddingInner": 0, "paddingOuter": 0.16}, "axis": null}, "xOffset": {"value": 0}}},
     {"mark": {"type": "rule", "strokeDash": [6, 5], "strokeWidth": 1.5, "color": "black"}, "encoding": {"y": {"field": "lw", "type": "quantitative", "scale": {"domain": [0.72, 9.34], "nice": false, "zero": false}, "axis": {"orient": "left", "values": [2,4,6,8], "tickSize": 5, "tickWidth": 1.5, "labels": false, "title": null}}, "y2": {"field": "uw"}}},
     {"mark": {"type": "tick", "orient": "horizontal", "size": 8.5, "thickness": 1.8, "color": "black", "opacity": 1}, "encoding": {"y": {"field": "lw", "type": "quantitative", "scale": {"domain": [0.72, 9.34], "nice": false, "zero": false}, "axis": null}}},
     {"mark": {"type": "tick", "orient": "horizontal", "size": 8.5, "thickness": 1.8, "color": "black", "opacity": 1}, "encoding": {"y": {"field": "uw", "type": "quantitative", "scale": {"domain": [0.72, 9.34], "nice": false, "zero": false}, "axis": null}}},
     {"mark": {"type": "bar", "fill": "white", "stroke": "black", "strokeWidth": 1.8}, "encoding": {"y": {"field": "q1", "type": "quantitative", "scale": {"domain": [0.72, 9.34], "nice": false, "zero": false}, "axis": null}, "y2": {"field": "q3"}}},
     {"mark": {"type": "tick", "orient": "horizontal", "size": 17.5, "thickness": 4, "color": "black", "opacity": 1}, "encoding": {"y": {"field": "med", "type": "quantitative", "scale": {"domain": [0.72, 9.34], "nice": false, "zero": false}, "axis": null}}},
     {"data": {"name": "outliers"}, "transform": [{"filter": "datum.cult=='Florida 47'&&datum.ripe=='Partially ripe'"}], "mark": {"type": "point", "shape": "circle", "filled": false, "size": 30, "strokeWidth": 1.4, "color": "black", "opacity": 1}, "encoding": {"y": {"field": "v", "type": "quantitative", "scale": {"domain": [0.72, 9.34], "nice": false, "zero": false}, "axis": null}}}
    ]
   },
   {
    "width": 278, "height": 256.5,
    "data": {"name": "boxes"}, "transform": [{"filter": "datum.cult=='Solar Fire'&&datum.ripe=='Partially ripe'"}],
    "resolve": {"axis": {"x": "independent", "y": "independent"}},
    "encoding": {
     "x": {"field": "grp", "type": "nominal", "scale": {"domain": ["A","B","C","D"], "paddingInner": 0, "paddingOuter": 0.16}, "axis": null},
     "xOffset": {"field": "reg", "type": "nominal", "scale": {"domain": ["D","M","W"], "paddingInner": 0.2, "paddingOuter": 0.1}}
    },
    "layer": [
     {"data": {"name": "seps"}, "transform": [{"filter": "datum.cult=='Solar Fire'&&datum.ripe=='Partially ripe'"}], "mark": {"type": "rule", "strokeDash": [1.5, 3.5], "strokeWidth": 1.6, "color": "black"}, "encoding": {"x": {"field": "grp", "type": "nominal", "bandPosition": 0, "scale": {"domain": ["A","B","C","D"], "paddingInner": 0, "paddingOuter": 0.16}, "axis": null}, "xOffset": {"value": 0}}},
     {"mark": {"type": "rule", "strokeDash": [6, 5], "strokeWidth": 1.5, "color": "black"}, "encoding": {"y": {"field": "lw", "type": "quantitative", "scale": {"domain": [0.72, 9.34], "nice": false, "zero": false}, "axis": {"orient": "left", "values": [2,4,6,8], "tickSize": 5, "tickWidth": 1.5, "labels": false, "title": null}}, "y2": {"field": "uw"}}},
     {"mark": {"type": "tick", "orient": "horizontal", "size": 8.5, "thickness": 1.8, "color": "black", "opacity": 1}, "encoding": {"y": {"field": "lw", "type": "quantitative", "scale": {"domain": [0.72, 9.34], "nice": false, "zero": false}, "axis": null}}},
     {"mark": {"type": "tick", "orient": "horizontal", "size": 8.5, "thickness": 1.8, "color": "black", "opacity": 1}, "encoding": {"y": {"field": "uw", "type": "quantitative", "scale": {"domain": [0.72, 9.34], "nice": false, "zero": false}, "axis": null}}},
     {"mark": {"type": "bar", "fill": "white", "stroke": "black", "strokeWidth": 1.8}, "encoding": {"y": {"field": "q1", "type": "quantitative", "scale": {"domain": [0.72, 9.34], "nice": false, "zero": false}, "axis": null}, "y2": {"field": "q3"}}},
     {"mark": {"type": "tick", "orient": "horizontal", "size": 17.5, "thickness": 4, "color": "black", "opacity": 1}, "encoding": {"x": {"field": "grp", "type": "nominal", "scale": {"domain": ["A","B","C","D"], "paddingInner": 0, "paddingOuter": 0.16}, "axis": {"orient": "bottom", "ticks": false, "labelAngle": 0, "labelFontSize": 13.5, "labelPadding": 8, "labelOffset": -4.5, "labelExpr": "'D\u2002M\u2002W'", "title": "Irrigation regimes", "titleFontSize": 28, "titlePadding": 10}}, "y": {"field": "med", "type": "quantitative", "scale": {"domain": [0.72, 9.34], "nice": false, "zero": false}, "axis": null}}},
     {"data": {"name": "outliers"}, "transform": [{"filter": "datum.cult=='Solar Fire'&&datum.ripe=='Partially ripe'"}], "mark": {"type": "point", "shape": "circle", "filled": false, "size": 30, "strokeWidth": 1.4, "color": "black", "opacity": 1}, "encoding": {"y": {"field": "v", "type": "quantitative", "scale": {"domain": [0.72, 9.34], "nice": false, "zero": false}, "axis": null}}}
    ]
   }
   ]
  }
  ]
 },
 {
  "spacing": 17.5,
  "vconcat": [
  {
   "width": 278, "height": 256.5, "title": {"text": "Ripe"},
   "data": {"name": "boxes"}, "transform": [{"filter": "datum.cult=='Bonny Best'&&datum.ripe=='Ripe'"}],
   "resolve": {"axis": {"x": "independent", "y": "independent"}},
   "encoding": {
    "x": {"field": "grp", "type": "nominal", "scale": {"domain": ["A","B","C","D"], "paddingInner": 0, "paddingOuter": 0.16}, "axis": null},
    "xOffset": {"field": "reg", "type": "nominal", "scale": {"domain": ["D","M","W"], "paddingInner": 0.2, "paddingOuter": 0.1}}
   },
   "layer": [
    {"data": {"name": "seps"}, "transform": [{"filter": "datum.cult=='Bonny Best'&&datum.ripe=='Ripe'"}], "mark": {"type": "rule", "strokeDash": [1.5, 3.5], "strokeWidth": 1.6, "color": "black"}, "encoding": {"x": {"field": "grp", "type": "nominal", "bandPosition": 0, "scale": {"domain": ["A","B","C","D"], "paddingInner": 0, "paddingOuter": 0.16}, "axis": null}, "xOffset": {"value": 0}}},
    {"mark": {"type": "rule", "strokeDash": [6, 5], "strokeWidth": 1.5, "color": "black"}, "encoding": {"y": {"field": "lw", "type": "quantitative", "scale": {"domain": [0.72, 9.34], "nice": false, "zero": false}, "axis": {"orient": "left", "values": [2,4,6,8], "tickSize": 5, "tickWidth": 1.5, "labels": false, "title": null}}, "y2": {"field": "uw"}}},
    {"mark": {"type": "tick", "orient": "horizontal", "size": 8.5, "thickness": 1.8, "color": "black", "opacity": 1}, "encoding": {"y": {"field": "lw", "type": "quantitative", "scale": {"domain": [0.72, 9.34], "nice": false, "zero": false}, "axis": null}}},
    {"mark": {"type": "tick", "orient": "horizontal", "size": 8.5, "thickness": 1.8, "color": "black", "opacity": 1}, "encoding": {"y": {"field": "uw", "type": "quantitative", "scale": {"domain": [0.72, 9.34], "nice": false, "zero": false}, "axis": null}}},
    {"mark": {"type": "bar", "fill": "white", "stroke": "black", "strokeWidth": 1.8}, "encoding": {"y": {"field": "q1", "type": "quantitative", "scale": {"domain": [0.72, 9.34], "nice": false, "zero": false}, "axis": {"orient": "right", "labels": false, "ticks": false, "title": "Bonny Best", "titleFontSize": 28, "titleAngle": 270, "titleBaseline": "top", "titlePadding": 11}}, "y2": {"field": "q3"}}},
    {"mark": {"type": "tick", "orient": "horizontal", "size": 17.5, "thickness": 4, "color": "black", "opacity": 1}, "encoding": {"x": {"field": "grp", "type": "nominal", "scale": {"domain": ["A","B","C","D"], "paddingInner": 0, "paddingOuter": 0.16}, "axis": {"orient": "top", "ticks": false, "labelAngle": 0, "labelFontSize": 14, "labelPadding": 0, "labelOffset": -5.5, "title": null}}, "y": {"field": "med", "type": "quantitative", "scale": {"domain": [0.72, 9.34], "nice": false, "zero": false}, "axis": null}}},
    {"data": {"name": "outliers"}, "transform": [{"filter": "datum.cult=='Bonny Best'&&datum.ripe=='Ripe'"}], "mark": {"type": "point", "shape": "circle", "filled": false, "size": 30, "strokeWidth": 1.4, "color": "black", "opacity": 1}, "encoding": {"y": {"field": "v", "type": "quantitative", "scale": {"domain": [0.72, 9.34], "nice": false, "zero": false}, "axis": null}}}
   ]
  },
  {
   "width": 278, "height": 256.5,
   "data": {"name": "boxes"}, "transform": [{"filter": "datum.cult=='Florida 47'&&datum.ripe=='Ripe'"}],
   "resolve": {"axis": {"x": "independent", "y": "independent"}},
   "encoding": {
    "x": {"field": "grp", "type": "nominal", "scale": {"domain": ["A","B","C","D"], "paddingInner": 0, "paddingOuter": 0.16}, "axis": null},
    "xOffset": {"field": "reg", "type": "nominal", "scale": {"domain": ["D","M","W"], "paddingInner": 0.2, "paddingOuter": 0.1}}
   },
   "layer": [
    {"data": {"name": "seps"}, "transform": [{"filter": "datum.cult=='Florida 47'&&datum.ripe=='Ripe'"}], "mark": {"type": "rule", "strokeDash": [1.5, 3.5], "strokeWidth": 1.6, "color": "black"}, "encoding": {"x": {"field": "grp", "type": "nominal", "bandPosition": 0, "scale": {"domain": ["A","B","C","D"], "paddingInner": 0, "paddingOuter": 0.16}, "axis": null}, "xOffset": {"value": 0}}},
    {"mark": {"type": "rule", "strokeDash": [6, 5], "strokeWidth": 1.5, "color": "black"}, "encoding": {"y": {"field": "lw", "type": "quantitative", "scale": {"domain": [0.72, 9.34], "nice": false, "zero": false}, "axis": {"orient": "left", "values": [2,4,6,8], "tickSize": 5, "tickWidth": 1.5, "labels": false, "title": null}}, "y2": {"field": "uw"}}},
    {"mark": {"type": "tick", "orient": "horizontal", "size": 8.5, "thickness": 1.8, "color": "black", "opacity": 1}, "encoding": {"y": {"field": "lw", "type": "quantitative", "scale": {"domain": [0.72, 9.34], "nice": false, "zero": false}, "axis": null}}},
    {"mark": {"type": "tick", "orient": "horizontal", "size": 8.5, "thickness": 1.8, "color": "black", "opacity": 1}, "encoding": {"y": {"field": "uw", "type": "quantitative", "scale": {"domain": [0.72, 9.34], "nice": false, "zero": false}, "axis": null}}},
    {"mark": {"type": "bar", "fill": "white", "stroke": "black", "strokeWidth": 1.8}, "encoding": {"y": {"field": "q1", "type": "quantitative", "scale": {"domain": [0.72, 9.34], "nice": false, "zero": false}, "axis": {"orient": "right", "labels": false, "ticks": false, "title": "Florida 47", "titleFontSize": 28, "titleAngle": 270, "titleBaseline": "top", "titlePadding": 11}}, "y2": {"field": "q3"}}},
    {"mark": {"type": "tick", "orient": "horizontal", "size": 17.5, "thickness": 4, "color": "black", "opacity": 1}, "encoding": {"y": {"field": "med", "type": "quantitative", "scale": {"domain": [0.72, 9.34], "nice": false, "zero": false}, "axis": null}}},
    {"data": {"name": "outliers"}, "transform": [{"filter": "datum.cult=='Florida 47'&&datum.ripe=='Ripe'"}], "mark": {"type": "point", "shape": "circle", "filled": false, "size": 30, "strokeWidth": 1.4, "color": "black", "opacity": 1}, "encoding": {"y": {"field": "v", "type": "quantitative", "scale": {"domain": [0.72, 9.34], "nice": false, "zero": false}, "axis": null}}}
   ]
  },
  {
   "width": 278, "height": 256.5,
   "data": {"name": "boxes"}, "transform": [{"filter": "datum.cult=='Solar Fire'&&datum.ripe=='Ripe'"}],
   "resolve": {"axis": {"x": "independent", "y": "independent"}},
   "encoding": {
    "x": {"field": "grp", "type": "nominal", "scale": {"domain": ["A","B","C","D"], "paddingInner": 0, "paddingOuter": 0.16}, "axis": null},
    "xOffset": {"field": "reg", "type": "nominal", "scale": {"domain": ["D","M","W"], "paddingInner": 0.2, "paddingOuter": 0.1}}
   },
   "layer": [
    {"data": {"name": "seps"}, "transform": [{"filter": "datum.cult=='Solar Fire'&&datum.ripe=='Ripe'"}], "mark": {"type": "rule", "strokeDash": [1.5, 3.5], "strokeWidth": 1.6, "color": "black"}, "encoding": {"x": {"field": "grp", "type": "nominal", "bandPosition": 0, "scale": {"domain": ["A","B","C","D"], "paddingInner": 0, "paddingOuter": 0.16}, "axis": null}, "xOffset": {"value": 0}}},
    {"mark": {"type": "rule", "strokeDash": [6, 5], "strokeWidth": 1.5, "color": "black"}, "encoding": {"y": {"field": "lw", "type": "quantitative", "scale": {"domain": [0.72, 9.34], "nice": false, "zero": false}, "axis": {"orient": "left", "values": [2,4,6,8], "tickSize": 5, "tickWidth": 1.5, "labels": false, "title": null}}, "y2": {"field": "uw"}}},
    {"mark": {"type": "tick", "orient": "horizontal", "size": 8.5, "thickness": 1.8, "color": "black", "opacity": 1}, "encoding": {"y": {"field": "lw", "type": "quantitative", "scale": {"domain": [0.72, 9.34], "nice": false, "zero": false}, "axis": null}}},
    {"mark": {"type": "tick", "orient": "horizontal", "size": 8.5, "thickness": 1.8, "color": "black", "opacity": 1}, "encoding": {"y": {"field": "uw", "type": "quantitative", "scale": {"domain": [0.72, 9.34], "nice": false, "zero": false}, "axis": null}}},
    {"mark": {"type": "bar", "fill": "white", "stroke": "black", "strokeWidth": 1.8}, "encoding": {"y": {"field": "q1", "type": "quantitative", "scale": {"domain": [0.72, 9.34], "nice": false, "zero": false}, "axis": {"orient": "right", "labels": false, "ticks": false, "title": "Solar Fire", "titleFontSize": 28, "titleAngle": 270, "titleBaseline": "top", "titlePadding": 11}}, "y2": {"field": "q3"}}},
    {"mark": {"type": "tick", "orient": "horizontal", "size": 17.5, "thickness": 4, "color": "black", "opacity": 1}, "encoding": {"x": {"field": "grp", "type": "nominal", "scale": {"domain": ["A","B","C","D"], "paddingInner": 0, "paddingOuter": 0.16}, "axis": {"orient": "bottom", "ticks": false, "labelAngle": 0, "labelFontSize": 13.5, "labelPadding": 8, "labelOffset": -4.5, "labelExpr": "'D\u2002M\u2002W'", "title": "Irrigation regimes", "titleFontSize": 28, "titlePadding": 10}}, "y": {"field": "med", "type": "quantitative", "scale": {"domain": [0.72, 9.34], "nice": false, "zero": false}, "axis": null}}},
    {"data": {"name": "outliers"}, "transform": [{"filter": "datum.cult=='Solar Fire'&&datum.ripe=='Ripe'"}], "mark": {"type": "point", "shape": "circle", "filled": false, "size": 30, "strokeWidth": 1.4, "color": "black", "opacity": 1}, "encoding": {"y": {"field": "v", "type": "quantitative", "scale": {"domain": [0.72, 9.34], "nice": false, "zero": false}, "axis": null}}}
   ]
  }
  ]
 }
 ]
}
]
}
